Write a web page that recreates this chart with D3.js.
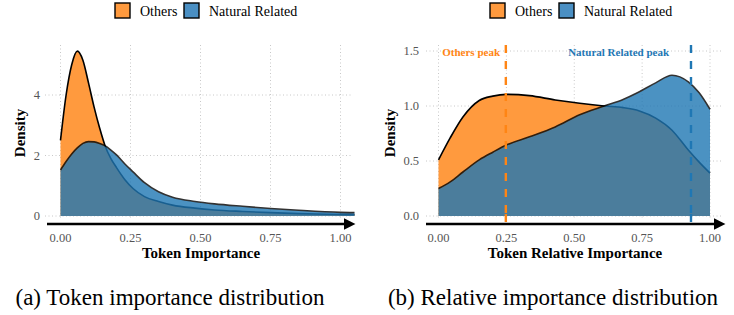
<!DOCTYPE html>
<html>
<head>
<meta charset="utf-8">
<script src="https://cdn.jsdelivr.net/npm/d3@7/dist/d3.min.js"></script>
<style>
  body { margin: 0; background: #fff; }
  #chart, #chart text { font-family: "Liberation Serif", "DejaVu Serif", serif; }
</style>
</head>
<body>
<svg id="chart" width="734" height="315"></svg>
<script>
// Series names and colours
var seriesNames = ["Others", "Natural Related"];
var fillColors = ["#ff9a3e", "#1f77b4"];
var peakColors = ["#ff8514", "#1f77b4"];

// (a) Token importance density
var leftX = [0, 0.02, 0.04, 0.06, 0.08, 0.10, 0.12, 0.14, 0.16, 0.18, 0.20, 0.23, 0.26, 0.30, 0.35, 0.40, 0.48, 0.55, 0.65, 0.75, 0.85, 1.0, 1.05];
var leftOthers = [2.5, 4.0, 5.0, 5.45, 5.15, 4.4, 3.6, 2.9, 2.3, 1.9, 1.6, 1.2, 0.9, 0.64, 0.48, 0.36, 0.26, 0.2, 0.15, 0.11, 0.08, 0.05, 0.04];
var leftNatural = [1.52, 1.8, 2.05, 2.25, 2.4, 2.46, 2.45, 2.4, 2.32, 2.18, 2.02, 1.72, 1.45, 1.1, 0.8, 0.62, 0.48, 0.4, 0.32, 0.25, 0.19, 0.12, 0.11];
var leftXTicks = [0, 0.25, 0.5, 0.75, 1.0];
var leftYTicks = [0, 2, 4];

// (b) Relative importance density
var rightX = [0, 0.043, 0.09, 0.15, 0.2, 0.25, 0.335, 0.43, 0.52, 0.61, 0.68, 0.74, 0.8, 0.86, 0.92, 0.96, 1.0];
var rightOthers = [0.51, 0.71, 0.9, 1.05, 1.09, 1.106, 1.094, 1.055, 1.025, 1.0, 0.985, 0.955, 0.89, 0.78, 0.6, 0.49, 0.39];
var rightNatural = [0.25, 0.31, 0.40, 0.51, 0.58, 0.645, 0.72, 0.81, 0.92, 1.0, 1.06, 1.13, 1.21, 1.28, 1.22, 1.12, 0.97];
var rightXTicks = [0, 0.25, 0.5, 0.75, 1.0];
var rightYTicks = [0, 0.5, 1.0, 1.5];
var peakValues = [0.248, 0.93];
var peakLabels = ["Others peak", "Natural Related peak"];

var captions = ["(a) Token importance distribution", "(b) Relative importance distribution"];

var svg = d3.select("#chart");
var defs = svg.append("defs");
defs.append("marker")
    .attr("id", "arrow")
    .attr("viewBox", "0 0 10 10")
    .attr("refX", 0).attr("refY", 5)
    .attr("markerWidth", 5).attr("markerHeight", 4.4)
    .attr("markerUnits", "strokeWidth")
    .attr("orient", "auto")
    .append("path").attr("d", "M0,0 L10,5 L0,10 Z").attr("fill", "#000");

function panel(opt) {
    var g = svg.append("g");
    var x = d3.scaleLinear().domain([0, 1]).range(opt.xRange);
    var y = d3.scaleLinear().domain([0, opt.yUnit]).range([216, 216 - opt.yPx]);

    // dotted grid
    g.selectAll(".hg").data(opt.yTicks).enter().append("line")
        .attr("x1", opt.gridX[0]).attr("x2", opt.gridX[1])
        .attr("y1", function(d) { return y(d); }).attr("y2", function(d) { return y(d); })
        .attr("stroke", "#c8c8c8").attr("stroke-width", 1).attr("stroke-dasharray", "1,2.5");
    g.selectAll(".vg").data(opt.xTicks).enter().append("line")
        .attr("x1", function(d) { return x(d); }).attr("x2", function(d) { return x(d); })
        .attr("y1", 45).attr("y2", 219)
        .attr("stroke", "#c8c8c8").attr("stroke-width", 1).attr("stroke-dasharray", "1,2.5");

    // density areas, Others first, Natural Related on top with alpha
    var series = [opt.others, opt.natural];
    series.forEach(function(vals, i) {
        var pts = opt.xs.map(function(v, j) { return [v, vals[j]]; });
        var area = d3.area().curve(d3.curveMonotoneX)
            .x(function(d) { return x(d[0]); })
            .y0(y(0)).y1(function(d) { return y(d[1]); });
        var line = d3.line().curve(d3.curveMonotoneX)
            .x(function(d) { return x(d[0]); })
            .y(function(d) { return y(d[1]); });
        var lg = g.append("g").attr("opacity", i === 1 ? 0.8 : 1);
        lg.append("path").attr("d", area(pts)).attr("fill", fillColors[i]);
        lg.append("path").attr("d", line(pts)).attr("fill", "none")
            .attr("stroke", "#000").attr("stroke-width", 1.6);
    });

    // peak markers
    if (opt.peaks) {
        opt.peaks.forEach(function(p, i) {
            g.append("line")
                .attr("x1", x(p)).attr("x2", x(p)).attr("y1", 45).attr("y2", 216)
                .attr("stroke", peakColors[i]).attr("stroke-width", 2.4)
                .attr("stroke-dasharray", "8,8");
            g.append("line")
                .attr("x1", x(p)).attr("x2", x(p)).attr("y1", 214).attr("y2", 222)
                .attr("stroke", peakColors[i]).attr("stroke-width", 2.4);
            g.append("text")
                .attr("x", opt.peakLabelEnd[i]).attr("y", 56)
                .attr("text-anchor", "end")
                .attr("font-size", 11).attr("font-weight", "bold")
                .attr("fill", peakColors[i])
                .text(peakLabels[i]);
        });
    }

    // arrow axis
    g.append("line")
        .attr("x1", opt.arrow[0]).attr("x2", opt.arrow[1] - 12)
        .attr("y1", 224).attr("y2", 224)
        .attr("stroke", "#000").attr("stroke-width", 2.6)
        .attr("marker-end", "url(#arrow)");

    // tick labels
    g.selectAll(".xt").data(opt.xTicks).enter().append("text")
        .attr("x", function(d) { return x(d); }).attr("y", 242)
        .attr("text-anchor", "middle").attr("font-size", 12.5).attr("fill", "#555")
        .text(function(d) { return d3.format(".2f")(d); });
    g.selectAll(".yt").data(opt.yTicks).enter().append("text")
        .attr("x", opt.yLabelX).attr("y", function(d) { return y(d) + 4; })
        .attr("text-anchor", "end").attr("font-size", 12.5).attr("fill", "#555")
        .text(function(d) { return opt.yFmt(d); });

    // axis titles
    g.append("text")
        .attr("x", opt.titleX).attr("y", 258)
        .attr("text-anchor", "middle").attr("font-size", 15).attr("font-weight", "bold")
        .text(opt.xTitle);
    g.append("text")
        .attr("transform", "translate(" + opt.densityX + ",133)rotate(-90)")
        .attr("text-anchor", "middle").attr("font-size", 15).attr("font-weight", "bold")
        .text("Density");

    // legend
    var lgd = g.append("g").attr("transform", "translate(" + opt.legendX + ",3)");
    lgd.append("rect").attr("x", 0).attr("y", 0).attr("width", 15).attr("height", 15)
        .attr("fill", fillColors[0]).attr("stroke", "#000").attr("stroke-width", 1.4);
    lgd.append("text").attr("x", 25).attr("y", 13).attr("font-size", 14).text(seriesNames[0]);
    lgd.append("rect").attr("x", 69).attr("y", 0).attr("width", 15).attr("height", 15)
        .attr("fill", "#4a8fc3").attr("stroke", "#000").attr("stroke-width", 1.4);
    lgd.append("text").attr("x", 94).attr("y", 13).attr("font-size", 14).text(seriesNames[1]);

    // caption
    svg.append("text")
        .attr("x", opt.captionX).attr("y", 305)
        .attr("text-anchor", "middle").attr("font-size", 23)
        .text(opt.caption);
}

panel({
    xs: leftX, others: leftOthers, natural: leftNatural,
    xRange: [60.5, 340.5], yUnit: 2, yPx: 60.5,
    xTicks: leftXTicks, yTicks: leftYTicks,
    gridX: [45, 353], arrow: [47, 356],
    yLabelX: 40, yFmt: d3.format("d"),
    titleX: 201, xTitle: "Token Importance", densityX: 25,
    legendX: 115, captionX: 170, caption: captions[0]
});

panel({
    xs: rightX, others: rightOthers, natural: rightNatural,
    xRange: [438.5, 710], yUnit: 0.5, yPx: 55,
    xTicks: rightXTicks, yTicks: rightYTicks,
    gridX: [426, 723], arrow: [426, 726],
    yLabelX: 419, yFmt: d3.format(".1f"),
    titleX: 575, xTitle: "Token Relative Importance", densityX: 395,
    legendX: 490, captionX: 553, caption: captions[1],
    peaks: peakValues, peakLabelEnd: [500, 669]
});
</script>
</body>
</html>
